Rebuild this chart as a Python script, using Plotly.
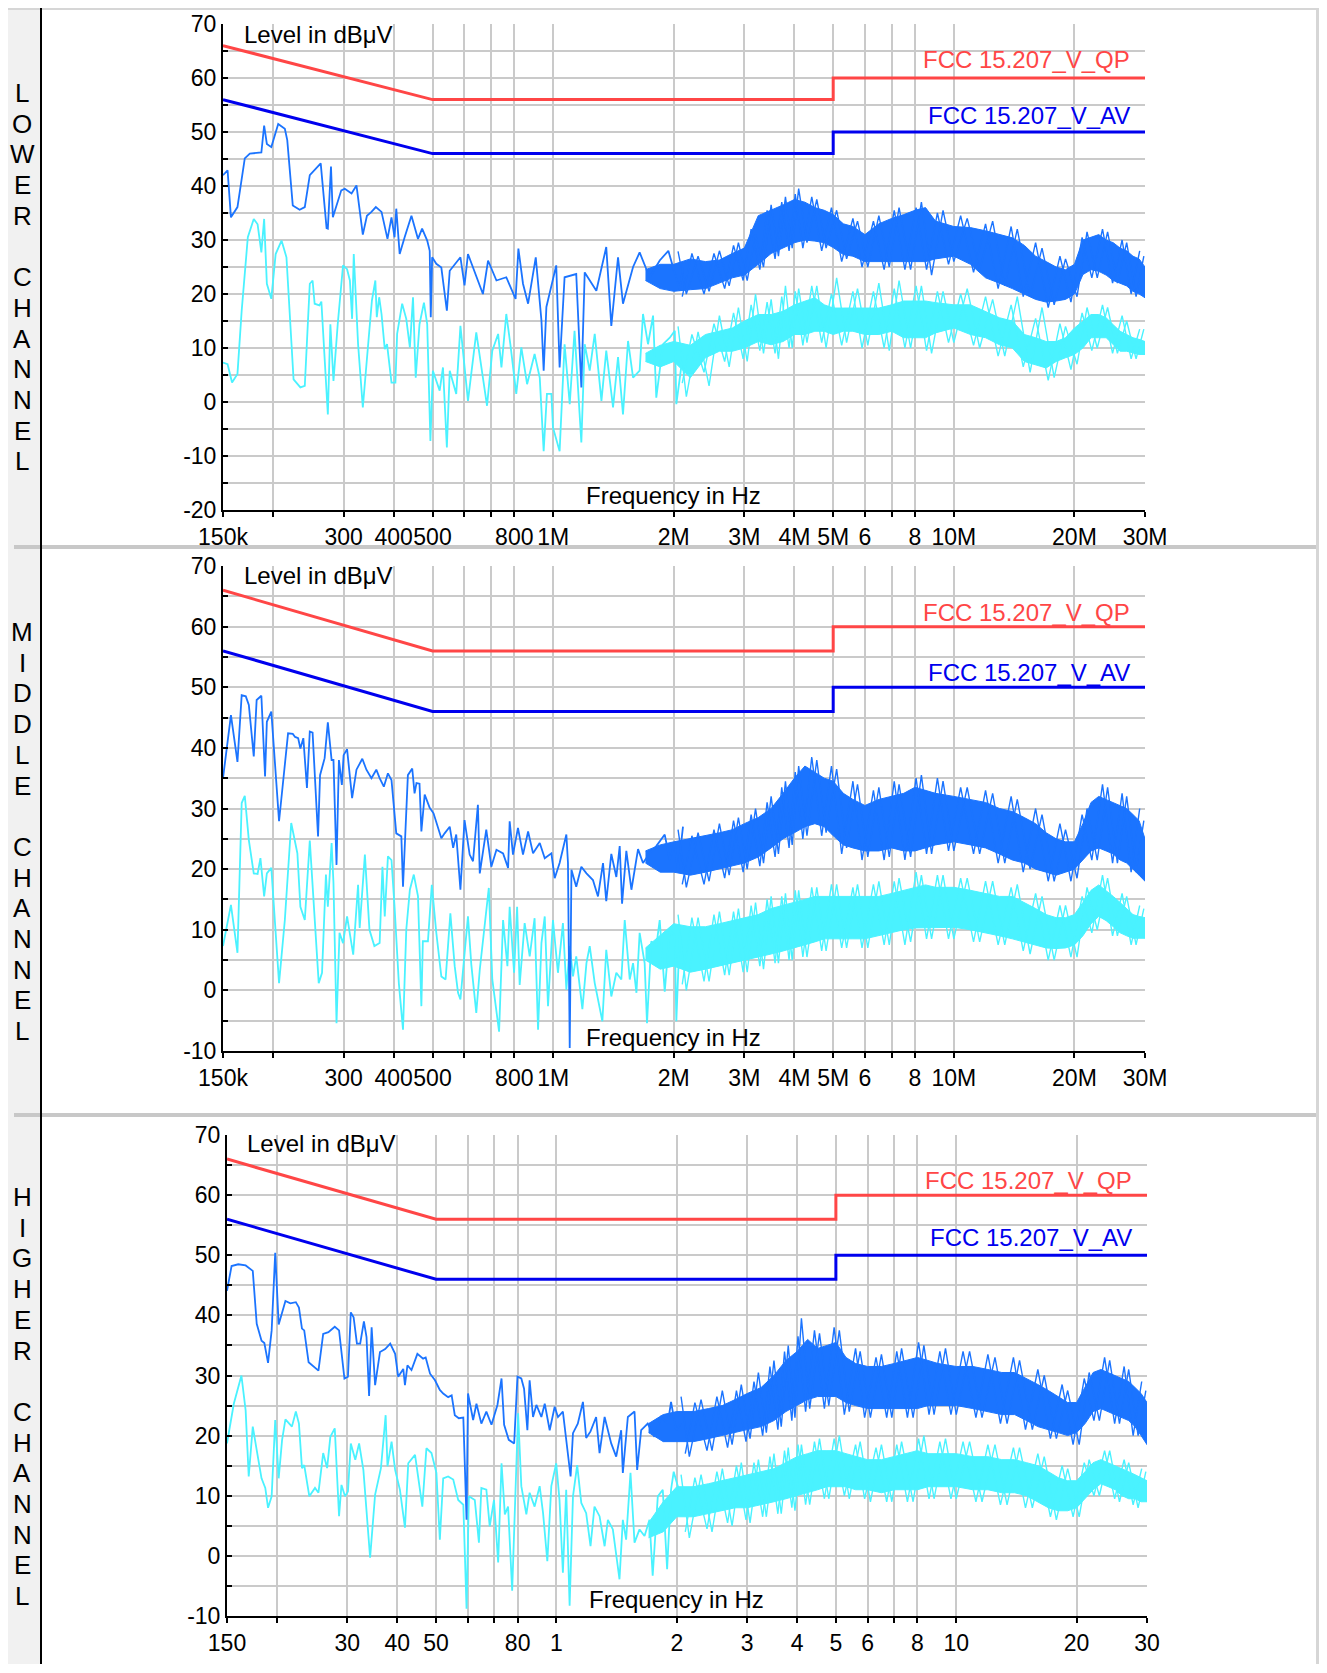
import math
import plotly.graph_objects as go

WIN_W, WIN_H = 1327, 1673
OFF = 8                      # page body margin of the html page
W, H = WIN_W - 2 * OFF, WIN_H - 2 * OFF - 1
FONT = "Liberation Sans, Arial, sans-serif"

# ---------------- data ----------------
limit_qp_f = [0.15, 0.5, 5.0, 5.0, 30.0]
limit_qp_v = [66, 56, 56, 60, 60]
limit_av_f = [0.15, 0.5, 5.0, 5.0, 30.0]
limit_av_v = [56, 46, 46, 50, 50]

x_tickvals = [0.15, 0.2, 0.3, 0.4, 0.5, 0.6, 0.7, 0.8, 1, 2, 3, 4, 5, 6, 7, 8, 10, 20, 30]
x_ticktext_a = ["150k", "", "300", "400", "500", "", "", "800", "1M", "2M", "3M", "4M", "5M", "6", "", "8", "10M", "20M", "30M"]
x_ticktext_b = ["150", "", "30", "40", "50", "", "", "80", "1", "2", "3", "4", "5", "6", "", "8", "10", "20", "30"]

panel_titles = ["LOWER CHANNEL", "MIDDLE CHANNEL", "HIGHER CHANNEL"]

# dense part (MHz): envelope grid of the noise bands
band_f = [1.7, 1.85, 2.0, 2.2, 2.4, 2.6, 2.8, 3.0, 3.25, 3.5, 3.75, 4.0, 4.25, 4.5, 4.75, 5.0, 5.3, 5.6, 6.0, 6.5, 7.0, 7.5,
          8.0, 8.5, 9.0, 10, 11, 12, 13, 14, 15, 16, 17, 18, 19, 20, 21, 22, 23, 24, 25, 26, 27, 28, 29, 30]
# dense part (MHz): spike tips, two interleaved sets (alternating up / down)
spike_f = [2.05, 2.15, 2.3, 2.45, 2.6, 2.75, 2.9, 3.05, 3.2, 3.35, 3.5, 3.65, 3.8, 3.95, 4.1, 4.3, 4.55, 4.8, 5.1, 5.4,
           5.75, 6.1, 6.5, 6.9, 7.3, 7.8, 8.3, 8.8, 9.4, 10.0, 10.8, 11.6, 12.5, 13.4, 14.4, 15.5, 16.6, 17.8, 19.0, 20.3,
           21.5, 22.8, 24.2, 25.6, 27.0, 28.5, 29.8]
spike_f2 = [2.1, 2.22, 2.38, 2.52, 2.68, 2.82, 2.98, 3.12, 3.28, 3.42, 3.58, 3.72, 3.88, 4.02, 4.2, 4.42, 4.68, 4.95, 5.25, 5.6,
            5.9, 6.3, 6.7, 7.1, 7.55, 8.05, 8.55, 9.1, 9.7, 10.4, 11.2, 12.0, 12.9, 13.9, 14.9, 16.0, 17.2, 18.4, 19.6, 20.9,
            22.1, 23.5, 24.9, 26.3, 27.7, 29.1]

# ---- panel 1 (lower channel) ----
p1_pk_khz = [150, 154, 157, 163, 170, 175, 187, 190, 193, 198, 206, 214, 217, 224, 233, 240, 247, 263, 272, 274,
             279, 282, 296, 302, 314, 323, 335, 343, 352, 361, 373, 386, 395, 402, 406, 414, 426, 443, 460, 471,
             485, 492, 495, 499, 511, 526, 543, 552, 587, 601, 613, 643, 668, 688, 722, 764, 806, 819, 841, 866,
             905, 935, 947, 962, 1018, 1038, 1068, 1142, 1176, 1199, 1282, 1357, 1397, 1452, 1494, 1583, 1644, 1741, 1845, 1939,
             2070, 2109]
p1_pk_v = [42.0, 42.9, 34.2, 36.1, 45.1, 46.0, 46.2, 51.2, 47.8, 47.2, 51.5, 50.6, 48.5, 36.4, 35.6, 36.1, 42.0, 44.2, 32.2, 32.1,
           43.6, 34.2, 39.2, 39.5, 38.6, 40.1, 31.0, 34.5, 35.2, 36.1, 35.2, 30.2, 34.2, 30.5, 35.8, 27.4, 30.5, 34.5, 30.2, 32.1,
           29.9, 28.0, 15.7, 26.8, 25.6, 24.9, 16.9, 24.3, 26.8, 21.6, 27.4, 23.1, 20.0, 26.2, 22.5, 23.1, 19.1, 28.4, 21.9, 18.2,
           26.8, 15.1, 5.8, 17.6, 25.3, 6.4, 23.1, 23.7, 2.7, 24.0, 20.6, 28.7, 14.1, 26.8, 18.2, 25.0, 27.7, 23.1, 26.2, 28.0,
           20.6, 25.0]
p1_av_khz = [150, 154, 158, 163, 167, 173, 179, 183, 187, 190, 193, 198, 203, 210, 216, 225, 234, 240, 247, 251,
             254, 261, 264, 274, 278, 283, 290, 299, 306, 311, 315, 318, 326, 335, 346, 353, 360, 363, 368, 373,
             380, 385, 395, 404, 408, 420, 430, 439, 447, 454, 464, 476, 485, 494, 501, 521, 531, 543, 552, 573,
             587, 601, 613, 643, 662, 684, 705, 729, 743, 764, 782, 809, 833, 861, 899, 926, 947, 965, 990, 999,
             1038, 1068, 1100, 1131, 1176, 1199, 1234, 1270, 1320, 1357, 1411, 1452, 1494, 1538, 1583, 1644, 1676, 1725, 1776, 1809,
             1881, 1955, 2012, 2030, 2109]
p1_av_v = [7.3, 7.0, 3.6, 5.2, 16.9, 30.5, 33.9, 32.9, 27.7, 33.9, 21.9, 19.1, 27.4, 29.9, 26.8, 4.2, 2.7, 3.0, 21.9, 22.5,
           18.2, 17.9, 18.6, -2.3, 14.4, 3.9, 14.4, 25.3, 24.6, 22.5, 15.4, 27.4, 10.7, -1.0, 11.3, 18.8, 22.5, 15.7, 19.4, 16.3,
           9.8, 10.7, 3.6, 3.6, 12.6, 18.2, 15.4, 10.1, 19.4, 4.5, 14.4, 18.4, 14.4, -7.2, 5.8, 2.1, 6.4, -8.4, 5.8, 1.5,
           14.1, 7.0, 0.2, 12.9, 6.4, -0.7, 9.5, 12.6, 6.4, 16.3, 10.7, 1.5, 10.1, 3.3, 8.9, 4.5, -9.1, 1.5, 1.5, -4.7,
           -9.1, 10.7, -0.4, 13.2, -7.5, 10.7, 5.8, 12.6, 0.2, 9.5, -1.0, 8.3, -2.3, 11.3, 4.5, 5.8, 16.3, 10.7, 16.0, 0.8,
           10.7, 11.9, 13.2, -0.4, 8.9]
p1_pk_hi = [24.5, 25.5, 25.5, 26.5, 26.0, 26.3, 27.5, 28.5, 34.5, 35.5, 36.5, 37.5, 37.0, 36.0, 35.5, 34.7, 33.0, 32.5, 31.0, 33.0,
            34.0, 34.7, 35.5, 36.0, 33.5, 32.5, 32.3, 31.7, 31.0, 30.4, 29.0, 27.0, 26.0, 25.0, 24.5, 25.5, 30.0, 30.5, 31.0, 30.0,
            29.5, 28.5, 28.0, 27.0, 26.5, 25.0]
p1_pk_lo = [22.5, 21.0, 20.5, 20.8, 21.0, 22.0, 23.0, 23.5, 25.5, 27.5, 28.5, 29.5, 30.0, 29.8, 29.5, 28.6, 27.3, 27.0, 26.0, 26.0,
            26.0, 26.0, 26.0, 26.0, 26.5, 27.0, 25.5, 23.0, 22.0, 21.0, 20.0, 19.0, 18.5, 18.7, 19.0, 20.0, 23.6, 24.5, 24.2, 23.5,
            22.5, 22.0, 21.5, 20.5, 20.0, 19.3]
p1_av_hi = [9.0, 10.5, 11.2, 10.5, 12.5, 13.1, 13.7, 15.0, 16.2, 16.2, 16.8, 18.0, 18.7, 19.3, 18.0, 17.4, 17.4, 17.4, 17.4, 17.4,
            18.0, 18.7, 18.7, 18.7, 18.4, 18.0, 18.0, 16.8, 15.6, 15.0, 12.5, 11.9, 11.2, 11.2, 11.9, 13.7, 15.0, 16.2, 16.2, 15.6,
            14.3, 13.1, 12.5, 11.9, 11.6, 11.2]
p1_av_lo = [7.5, 6.5, 7.5, 4.5, 8.2, 9.4, 9.4, 10.0, 11.2, 10.6, 11.2, 12.5, 12.5, 13.1, 13.1, 12.5, 13.1, 13.1, 12.5, 12.5,
            13.1, 11.9, 11.9, 11.9, 12.8, 13.7, 12.5, 11.9, 10.6, 10.0, 7.5, 6.9, 6.3, 7.5, 8.2, 8.8, 10.0, 11.9, 11.9, 11.9,
            10.6, 9.4, 9.4, 9.1, 8.8, 8.8]
p1_pk_spk = [27.9, 20.0, 27.0, 20.5, 28.0, 21.5, 29.5, 22.5, 31.0, 25.0, 36.5, 27.0, 38.0, 28.5, 39.5, 29.5, 37.5, 28.5, 35.5, 26.5,
             33.5, 25.0, 34.5, 25.0, 36.0, 24.5, 37.0, 23.5, 35.5, 26.0, 34.0, 24.5, 33.5, 21.5, 32.0, 19.5, 28.5, 18.0, 26.5, 19.5,
             31.5, 23.0, 31.5, 22.0, 29.5, 19.5, 27.0]
p1_av_spk = [14.0, 1.0, 13.0, 3.0, 16.0, 6.5, 17.5, 7.5, 20.0, 9.0, 19.0, 8.0, 21.5, 10.0, 21.0, 11.0, 21.5, 10.0, 23.0, 11.0,
             21.0, 10.5, 22.0, 9.5, 22.5, 10.0, 21.5, 9.0, 20.5, 11.0, 21.0, 10.0, 19.0, 8.5, 19.5, 5.5, 17.5, 4.5, 14.0, 7.0,
             17.5, 10.0, 17.5, 9.0, 15.0, 8.0, 13.5]
p1_pk_spk2 = [19.5, 27.5, 20.0, 27.5, 21.0, 29.0, 22.5, 32.0, 24.5, 35.5, 26.5, 37.0, 28.0, 38.5, 28.5, 38.0, 28.0, 36.0, 26.0, 34.0,
              25.0, 33.5, 24.5, 35.5, 24.5, 36.0, 24.5, 35.0, 25.5, 34.5, 24.0, 33.0, 21.0, 32.5, 19.5, 29.5, 17.5, 27.0, 18.5, 30.5,
              23.0, 32.0, 22.0, 30.0, 20.0, 28.0]
p1_av_spk2 = [3.5, 12.5, 5.5, 14.5, 7.5, 16.5, 8.0, 18.0, 9.5, 18.5, 9.0, 19.5, 10.0, 20.5, 10.5, 21.5, 11.0, 20.0, 10.5, 20.5,
              10.0, 20.5, 10.0, 21.0, 10.0, 21.5, 9.5, 20.5, 11.0, 20.0, 10.5, 19.5, 8.5, 18.0, 6.5, 15.5, 4.0, 14.5, 6.0, 16.5,
              9.5, 18.0, 9.0, 16.0, 8.0, 13.5]

# ---- panel 2 (middle channel) ----
p2_pk_khz = [150, 157, 163, 167, 171, 174, 179, 182, 187, 191, 193, 198, 207, 212, 218, 224, 227, 231, 234, 238,
             243, 247, 251, 259, 262, 269, 274, 280, 283, 288, 292, 297, 300, 306, 315, 323, 334, 342, 352, 362,
             369, 378, 387, 395, 406, 418, 422, 434, 445, 451, 456, 464, 469, 478, 492, 503, 516, 526, 536, 552,
             563, 573, 587, 601, 619, 631, 649, 656, 681, 701, 722, 750, 772, 779, 794, 817, 841, 866, 891, 926,
             953, 990, 1009, 1038, 1079, 1089, 1100, 1111, 1142, 1176, 1211, 1257, 1294, 1332, 1357, 1397, 1438, 1466, 1486, 1523,
             1568, 1629, 1676, 1741, 1809, 1899, 1955, 2012, 2049, 2109]
p2_pk_v = [35.0, 45.4, 37.7, 48.7, 48.5, 47.1, 38.6, 47.9, 48.6, 35.3, 44.3, 46.0, 27.9, 34.7, 42.4, 42.3, 41.8, 41.6, 39.9, 41.6,
           33.4, 42.7, 42.5, 25.4, 35.5, 38.3, 44.2, 38.0, 38.0, 20.7, 38.0, 33.9, 38.8, 39.8, 31.7, 36.4, 38.2, 36.4, 35.0, 36.4,
           35.0, 33.6, 35.8, 34.7, 25.9, 25.4, 17.1, 35.5, 36.6, 32.5, 34.2, 34.1, 26.2, 32.3, 30.1, 29.2, 27.0, 25.1, 25.9, 27.0,
           23.5, 25.7, 16.6, 28.1, 22.4, 21.3, 30.6, 19.3, 26.5, 20.4, 23.2, 22.6, 20.2, 27.9, 22.4, 26.8, 22.4, 26.2, 22.6, 24.3,
           21.8, 22.6, 18.5, 21.0, 25.7, 21.0, -9.5, 19.9, 17.1, 20.4, 19.3, 18.2, 15.5, 21.0, 14.7, 22.5, 18.7, 23.8, 14.3, 23.0,
           16.6, 23.3, 21.0, 22.6, 23.8, 25.7, 21.5, 24.3, 19.6, 27.0]
p2_av_khz = [150, 157, 163, 167, 170, 174, 179, 183, 186, 190, 193, 198, 207, 214, 222, 230, 234, 240, 247, 253,
             260, 265, 271, 274, 280, 283, 288, 293, 299, 306, 317, 326, 329, 339, 348, 358, 369, 375, 380, 387,
             395, 402, 412, 422, 430, 439, 449, 460, 469, 473, 487, 498, 511, 526, 539, 554, 568, 579, 587, 596,
             613, 625, 643, 656, 675, 691, 705, 733, 750, 769, 779, 799, 813, 825, 849, 874, 899, 917, 935, 953,
             971, 999, 1028, 1058, 1079, 1100, 1121, 1142, 1183, 1211, 1234, 1270, 1327, 1357, 1397, 1438, 1480, 1509, 1553, 1583,
             1614, 1644, 1692, 1715, 1758, 1809, 1845, 1899, 1955, 2012, 2030, 2070, 2109]
p2_av_v = [7.3, 14.1, 6.2, 30.9, 32.1, 24.8, 19.3, 19.2, 21.8, 15.5, 19.3, 20.2, 1.2, 11.6, 27.6, 22.6, 13.8, 11.6, 24.7, 13.8,
           1.2, 2.9, 19.1, 13.8, 24.3, 17.7, -5.4, 9.5, 7.8, 12.2, 5.9, 17.4, 10.3, 22.4, 10.0, 7.3, 7.8, 20.4, 12.2, 22.1,
           21.5, 13.8, 1.2, -6.5, 10.0, 16.6, 19.1, 15.5, -2.6, 8.1, 8.1, 17.4, 9.5, 2.3, 1.8, 12.7, 4.0, -0.4, -1.5, 3.4,
           12.2, 4.2, -3.7, 3.4, 10.5, 16.9, 1.8, -6.8, 11.6, 4.0, 13.8, 2.9, 13.8, 0.9, 11.1, 5.6, 11.9, -6.5, 7.8, 12.2,
           -2.6, 11.6, 2.9, 11.1, 0.1, 7.3, 2.3, 5.6, -3.1, 4.5, 7.3, 1.2, -5.1, 6.7, -1.0, 2.9, 1.8, 11.6, 1.8, 4.5,
           -0.4, 9.5, 4.5, -5.4, 8.1, 7.3, 11.6, -0.2, 10.0, 8.9, -5.1, 9.5, 4.5]
p2_pk_hi = [23.0, 24.0, 24.5, 25.0, 25.5, 26.0, 26.5, 27.5, 28.5, 30.0, 32.5, 35.0, 37.0, 36.0, 35.0, 34.5, 32.5, 31.5, 30.5, 31.5,
            32.0, 32.5, 33.5, 33.0, 32.5, 32.0, 31.5, 31.0, 30.0, 29.5, 28.5, 27.5, 26.0, 25.0, 24.5, 24.5, 27.5, 31.0, 32.0, 31.5,
            31.0, 30.5, 30.0, 29.0, 28.0, 25.0]
p2_pk_lo = [21.0, 19.5, 19.5, 19.0, 19.5, 20.0, 20.5, 21.0, 22.0, 23.5, 25.0, 26.0, 27.0, 27.5, 27.0, 25.5, 24.0, 23.5, 23.0, 23.0,
            23.5, 23.0, 23.0, 23.5, 24.0, 24.5, 24.0, 23.5, 22.5, 21.5, 21.0, 20.0, 19.5, 19.0, 19.5, 20.0, 21.5, 23.0, 23.5, 23.0,
            22.5, 21.5, 21.0, 20.0, 19.0, 18.0]
p2_av_hi = [7.0, 9.0, 11.0, 10.5, 10.5, 11.0, 11.5, 12.0, 12.5, 13.5, 14.0, 14.5, 15.0, 15.5, 15.5, 15.6, 15.5, 15.5, 15.5, 15.5,
            16.0, 16.5, 17.0, 17.4, 17.0, 17.0, 16.5, 16.0, 15.5, 15.5, 14.5, 13.5, 12.5, 12.0, 12.0, 12.5, 14.5, 16.5, 17.4, 16.5,
            15.5, 14.5, 13.5, 12.5, 12.2, 12.0]
p2_av_lo = [5.0, 3.5, 4.0, 3.0, 3.5, 4.0, 4.5, 5.0, 5.5, 6.0, 6.5, 7.0, 7.5, 8.0, 8.5, 8.6, 8.5, 8.5, 8.5, 9.0,
            9.5, 10.0, 10.3, 10.4, 10.4, 10.4, 10.0, 9.5, 9.0, 8.5, 8.0, 7.5, 7.0, 6.9, 7.0, 7.5, 9.0, 11.0, 12.2, 11.5,
            10.5, 9.5, 9.0, 8.6, 8.6, 8.6]
p2_pk_spk = [26.5, 17.0, 26.0, 18.0, 27.5, 19.0, 28.5, 20.0, 30.0, 21.0, 32.0, 22.5, 34.5, 24.0, 37.0, 25.5, 38.0, 26.0, 36.5, 23.5,
             34.0, 22.0, 33.5, 22.0, 34.0, 22.0, 35.5, 22.5, 34.5, 23.0, 33.5, 22.5, 32.5, 21.0, 31.5, 20.0, 29.0, 18.0, 26.5, 18.5,
             30.0, 21.5, 33.5, 21.0, 32.0, 19.5, 28.0]
p2_av_spk = [12.5, 0.0, 12.0, 1.5, 13.0, 2.5, 13.5, 3.0, 14.5, 3.5, 15.5, 4.5, 16.0, 5.0, 16.5, 5.5, 17.0, 6.5, 17.5, 7.0,
             17.5, 7.0, 18.0, 7.5, 18.5, 8.0, 19.0, 8.5, 19.0, 8.5, 18.5, 8.0, 18.0, 7.5, 17.5, 6.0, 15.5, 5.0, 14.0, 5.5,
             17.0, 10.0, 18.5, 9.0, 15.5, 7.5, 13.5]
p2_pk_spk2 = [17.5, 25.5, 17.5, 26.5, 18.5, 28.0, 19.5, 29.0, 20.5, 31.0, 22.0, 33.5, 23.5, 36.0, 25.0, 38.5, 25.5, 37.0, 22.5, 34.5,
              21.5, 33.0, 21.5, 34.5, 21.5, 35.0, 22.5, 35.0, 23.0, 33.5, 22.5, 33.0, 21.0, 32.0, 19.5, 30.0, 18.0, 27.5, 18.0, 29.0,
              21.5, 34.0, 21.0, 32.5, 19.5, 30.0]
p2_av_spk2 = [1.0, 12.0, 1.5, 12.5, 2.5, 13.0, 3.0, 14.0, 4.0, 15.0, 4.5, 15.5, 5.0, 16.5, 5.5, 17.0, 6.5, 17.5, 7.0, 17.0,
              7.0, 17.5, 7.5, 18.0, 7.5, 19.5, 8.5, 19.0, 8.5, 18.5, 8.0, 18.0, 7.5, 17.0, 6.5, 16.0, 5.0, 14.0, 5.5, 15.5,
              9.5, 19.0, 9.0, 16.0, 7.5, 14.0]

# ---- panel 3 (higher channel) ----
p3_pk_khz = [150, 154, 160, 167, 174, 178, 183, 186, 190, 194, 198, 202, 210, 216, 223, 227, 231, 234, 240, 254,
             261, 269, 279, 286, 295, 301, 306, 311, 317, 323, 330, 335, 340, 345, 352, 362, 373, 384, 395, 402,
             414, 418, 424, 434, 449, 464, 471, 483, 497, 511, 521, 536, 547, 557, 570, 585, 596, 601, 619, 631,
             649, 668, 688, 712, 729, 740, 760, 784, 799, 817, 830, 846, 857, 874, 891, 917, 935, 962, 990, 1009,
             1038, 1058, 1085, 1100, 1131, 1165, 1187, 1217, 1257, 1282, 1320, 1371, 1411, 1452, 1466, 1509, 1568, 1592, 1629, 1692,
             1758, 1827, 1899, 1935, 1992, 2049]
p3_pk_v = [44.1, 48.2, 48.5, 48.3, 47.4, 38.6, 35.8, 35.4, 32.1, 37.5, 50.4, 38.5, 42.4, 42.0, 42.2, 41.3, 37.8, 37.5, 32.2, 30.8,
           36.9, 37.2, 38.1, 37.5, 29.5, 29.8, 40.5, 39.7, 35.3, 35.3, 39.0, 36.4, 26.6, 38.0, 28.4, 33.9, 34.4, 35.3, 33.6, 29.8,
           31.1, 28.4, 31.7, 30.9, 33.6, 32.8, 33.0, 30.3, 29.2, 27.6, 27.0, 26.4, 26.7, 23.4, 22.9, 23.0, 6.0, 27.0, 22.6, 25.3,
           22.0, 24.0, 21.8, 25.1, 29.5, 21.8, 19.3, 18.7, 29.8, 29.5, 27.8, 20.9, 29.2, 23.1, 25.1, 23.1, 25.3, 20.9, 24.8, 23.1,
           24.0, 19.6, 13.2, 20.4, 22.0, 25.6, 19.6, 20.7, 23.1, 17.1, 23.1, 18.7, 16.5, 20.9, 13.8, 23.1, 24.0, 14.3, 20.9, 22.0,
           19.8, 23.1, 22.0, 25.6, 20.9, 22.0]
p3_av_khz = [150, 156, 163, 167, 170, 174, 178, 183, 187, 190, 194, 198, 202, 206, 210, 218, 223, 227, 231, 234,
             241, 249, 254, 261, 267, 272, 279, 286, 290, 296, 301, 306, 314, 321, 329, 342, 352, 364, 374, 378,
             387, 395, 406, 418, 426, 443, 462, 473, 487, 501, 511, 521, 536, 552, 568, 585, 596, 604, 625, 640,
             649, 668, 681, 698, 715, 729, 743, 757, 775, 787, 802, 817, 841, 857, 882, 908, 926, 949, 971, 999,
             1018, 1038, 1058, 1079, 1100, 1127, 1154, 1187, 1217, 1245, 1282, 1320, 1345, 1384, 1438, 1466, 1494, 1532, 1568, 1614,
             1661, 1709, 1741, 1793, 1845, 1892, 1935, 1965, 2012, 2049]
p3_av_v = [18.7, 25.3, 30.0, 24.2, 13.2, 21.5, 17.6, 12.9, 11.3, 8.0, 9.9, 22.6, 12.9, 19.3, 22.7, 21.5, 24.0, 22.0, 14.6, 15.1,
           9.9, 11.3, 10.5, 17.1, 14.6, 19.8, 21.2, 6.6, 11.8, 9.9, 10.7, 18.7, 16.0, 18.7, 14.3, -0.3, 10.2, 14.6, 23.4, 14.9,
           19.0, 14.3, 11.0, 4.7, 15.4, 16.8, 8.2, 17.9, 17.1, 13.8, 2.7, 12.9, 13.2, 12.7, 9.3, 8.5, -8.8, 9.9, 9.3, 2.2,
           11.3, 11.0, 4.9, 9.3, -1.1, 15.4, 6.9, 8.2, -5.8, 8.2, 23.7, 11.6, 6.9, 10.5, 8.2, 11.6, 7.1, -0.9, 11.6, 15.4,
           9.3, -2.8, 11.0, -8.3, 9.9, 15.1, 8.8, 7.1, 1.6, 8.2, 6.6, 1.6, 6.0, 4.4, -3.9, 6.0, 2.7, 13.8, 2.2, 4.4,
           3.3, 6.0, -3.3, 9.9, 11.0, -2.2, 11.0, 14.0, 11.6, 10.5]
p3_pk_hi = [22.0, 23.5, 24.0, 24.0, 24.5, 25.0, 26.0, 27.0, 28.0, 30.0, 32.5, 34.0, 36.0, 34.5, 35.0, 35.5, 33.0, 32.0, 31.5, 31.5,
            32.0, 32.5, 33.0, 32.5, 32.0, 31.5, 31.5, 31.0, 30.5, 30.5, 29.5, 28.5, 27.5, 26.5, 25.5, 25.5, 28.0, 30.5, 31.0, 30.5,
            30.0, 29.5, 29.0, 28.0, 27.0, 25.5]
p3_pk_lo = [20.5, 19.0, 19.0, 19.0, 19.5, 20.0, 20.5, 21.0, 21.5, 22.5, 24.0, 25.0, 26.0, 26.5, 26.5, 26.5, 25.5, 25.0, 24.5, 24.5,
            24.5, 24.5, 24.5, 25.0, 25.0, 25.0, 24.5, 24.0, 23.5, 23.5, 22.5, 21.5, 21.0, 20.5, 20.0, 20.5, 22.0, 24.0, 24.5, 24.0,
            23.5, 23.0, 22.5, 21.5, 20.0, 18.5]
p3_av_hi = [5.5, 9.0, 11.5, 11.5, 12.0, 12.5, 13.0, 13.5, 14.0, 14.5, 15.5, 16.5, 17.0, 17.5, 17.5, 17.5, 17.0, 16.5, 16.0, 16.0,
            16.5, 17.0, 17.5, 17.0, 17.0, 17.0, 16.5, 16.5, 16.0, 16.0, 15.5, 15.0, 14.0, 13.0, 12.5, 12.5, 14.0, 15.5, 16.0, 15.5,
            15.0, 14.5, 14.0, 13.5, 13.0, 12.5]
p3_av_lo = [3.0, 4.0, 6.5, 6.5, 7.0, 7.5, 8.0, 8.0, 8.5, 9.0, 9.5, 10.0, 10.5, 11.0, 11.5, 11.5, 11.5, 11.0, 11.0, 10.5,
            11.0, 11.0, 11.0, 11.5, 11.5, 11.5, 11.0, 11.0, 10.5, 10.5, 10.0, 9.0, 8.0, 7.5, 7.5, 8.0, 9.5, 11.0, 12.0, 11.5,
            11.0, 10.0, 9.5, 9.5, 9.0, 9.0]
p3_pk_spk = [26.5, 16.5, 26.0, 17.5, 27.5, 18.5, 28.5, 19.5, 30.5, 20.5, 32.5, 21.5, 35.0, 23.0, 39.5, 24.5, 37.0, 25.0, 37.5, 24.0,
             34.0, 23.0, 33.5, 23.0, 34.5, 23.0, 35.0, 23.5, 34.5, 23.5, 34.0, 23.0, 33.0, 22.0, 32.5, 21.0, 30.0, 19.5, 27.5, 18.5,
             30.5, 22.5, 32.5, 22.0, 31.0, 20.0, 27.5]
p3_av_spk = [13.5, 3.0, 13.5, 4.0, 14.5, 5.0, 15.5, 5.5, 16.0, 6.5, 17.0, 7.0, 18.0, 7.5, 18.5, 8.5, 19.5, 9.5, 20.0, 9.5,
             19.0, 9.0, 18.5, 9.0, 19.0, 9.0, 20.0, 9.5, 19.5, 9.5, 19.0, 9.0, 18.5, 8.5, 18.0, 8.0, 16.5, 6.0, 14.5, 6.5,
             16.0, 10.0, 17.5, 9.0, 15.5, 8.0, 14.0]
p3_pk_spk2 = [17.0, 25.5, 17.5, 26.5, 18.0, 27.5, 19.0, 29.0, 20.0, 31.5, 21.0, 34.0, 22.5, 36.5, 24.0, 37.5, 24.5, 38.0, 23.5, 34.5,
              23.0, 33.0, 23.0, 34.0, 23.0, 35.5, 23.5, 34.0, 23.5, 34.0, 23.0, 33.5, 22.0, 33.0, 21.0, 31.0, 19.5, 28.5, 18.5, 29.5,
              22.5, 33.0, 22.0, 31.5, 20.0, 29.0]
p3_av_spk2 = [4.0, 13.0, 4.5, 14.0, 5.5, 15.0, 6.0, 15.5, 6.5, 16.5, 7.0, 17.5, 8.0, 18.5, 8.5, 19.0, 9.5, 19.5, 10.0, 18.5,
              9.5, 18.0, 9.0, 18.5, 9.0, 19.5, 9.5, 19.0, 9.5, 19.0, 9.0, 18.5, 8.5, 18.0, 8.0, 17.0, 6.5, 15.0, 6.5, 15.5,
              10.0, 17.5, 9.5, 16.0, 8.5, 14.5]

panels_data = [
    dict(pk_khz=p1_pk_khz, pk_v=p1_pk_v, av_khz=p1_av_khz, av_v=p1_av_v, pk_hi=p1_pk_hi, pk_lo=p1_pk_lo,
         av_hi=p1_av_hi, av_lo=p1_av_lo, pk_spk=p1_pk_spk, av_spk=p1_av_spk, pk_spk2=p1_pk_spk2, av_spk2=p1_av_spk2),
    dict(pk_khz=p2_pk_khz, pk_v=p2_pk_v, av_khz=p2_av_khz, av_v=p2_av_v, pk_hi=p2_pk_hi, pk_lo=p2_pk_lo,
         av_hi=p2_av_hi, av_lo=p2_av_lo, pk_spk=p2_pk_spk, av_spk=p2_av_spk, pk_spk2=p2_pk_spk2, av_spk2=p2_av_spk2),
    dict(pk_khz=p3_pk_khz, pk_v=p3_pk_v, av_khz=p3_av_khz, av_v=p3_av_v, pk_hi=p3_pk_hi, pk_lo=p3_pk_lo,
         av_hi=p3_av_hi, av_lo=p3_av_lo, pk_spk=p3_pk_spk, av_spk=p3_av_spk, pk_spk2=p3_pk_spk2, av_spk2=p3_av_spk2),
]

# ---------------- layout geometry (window pixels) ----------------
geom = [
    dict(x0=223, x1=1145, y0=24, y1=510, ymin=-20, ticktext=x_ticktext_a,
         lvl_y=68.1, qp_y=63.5, av_y=53.1, fq_y=-17.3, lvl_x=0.167, letters_top=93),
    dict(x0=223, x1=1145, y0=566, y1=1051, ymin=-10, ticktext=x_ticktext_a,
         lvl_y=68.4, qp_y=62.3, av_y=52.5, fq_y=-7.8, lvl_x=0.167, letters_top=632),
    dict(x0=227, x1=1147, y0=1135, y1=1616, ymin=-10, ticktext=x_ticktext_b,
         lvl_y=68.6, qp_y=62.5, av_y=52.9, fq_y=-7.3, lvl_x=0.166, letters_top=1197),
]

C_PK = "#1b74ff"
C_AV = "#4af2ff"
C_QP = "#ff4646"
C_AVL = "#0000ee"
GRID = "#cacaca"


def px_x(p):
    return (p - OFF) / W


def px_y(p):
    return 1 - (p - OFF) / H


fig = go.Figure()
annotations = []
shapes = []
layout_axes = {}

for i, (d, g) in enumerate(zip(panels_data, geom)):
    n = "" if i == 0 else str(i + 1)
    xa, ya = "x" + n, "y" + n

    pk_f = [k / 1000.0 for k in d["pk_khz"]]
    av_f = [k / 1000.0 for k in d["av_khz"]]

    def add_line(x, y, color, width):
        fig.add_trace(go.Scatter(x=x, y=y, mode="lines", line=dict(color=color, width=width),
                                 xaxis=xa, yaxis=ya, showlegend=False, hoverinfo="skip"))

    def add_band(hi, lo, color):
        fig.add_trace(go.Scatter(x=band_f + band_f[::-1], y=hi + lo[::-1], fill="toself",
                                 fillcolor=color, mode="lines", line=dict(color=color, width=1),
                                 xaxis=xa, yaxis=ya, hoverinfo="skip", showlegend=False))

    # average detector trace
    add_band(d["av_hi"], d["av_lo"], C_AV)
    add_line(spike_f, d["av_spk"], C_AV, 1.4)
    add_line(spike_f2, d["av_spk2"], C_AV, 1.4)
    add_line(av_f, d["av_v"], C_AV, 1.8)
    # peak detector trace
    add_band(d["pk_hi"], d["pk_lo"], C_PK)
    add_line(spike_f, d["pk_spk"], C_PK, 1.4)
    add_line(spike_f2, d["pk_spk2"], C_PK, 1.4)
    add_line(pk_f, d["pk_v"], C_PK, 1.8)
    # limits
    add_line(limit_av_f, limit_av_v, C_AVL, 3)
    add_line(limit_qp_f, limit_qp_v, C_QP, 3)

    yt = list(range(70, g["ymin"] - 1, -5))
    ytt = [str(v) if v % 10 == 0 else "" for v in yt]

    layout_axes["xaxis" + n] = dict(
        type="log", range=[math.log10(0.15), math.log10(30)],
        domain=[px_x(g["x0"]), px_x(g["x1"])], anchor=ya,
        tickmode="array", tickvals=x_tickvals, ticktext=g["ticktext"], tickangle=0,
        ticks="outside", ticklen=5, tickwidth=2, tickcolor="black",
        showline=True, linecolor="black", linewidth=2, automargin=False,
        showgrid=True, gridcolor=GRID, gridwidth=2, zeroline=False,
        tickfont=dict(family=FONT, size=23, color="black"), fixedrange=True)
    layout_axes["yaxis" + n] = dict(
        range=[g["ymin"], 70], domain=[px_y(g["y1"]), px_y(g["y0"])], anchor=xa,
        tickmode="array", tickvals=yt, ticktext=ytt,
        ticks="inside", ticklen=5, tickwidth=2, tickcolor="black",
        showline=True, linecolor="black", linewidth=2, automargin=False,
        showgrid=True, gridcolor=GRID, gridwidth=2, zeroline=False,
        tickfont=dict(family=FONT, size=23, color="black"), fixedrange=True)

    annotations.append(dict(text="Level in dBμV", x=math.log10(g["lvl_x"]), y=g["lvl_y"],
                            xref=xa, yref=ya, xanchor="left", yanchor="middle", showarrow=False,
                            font=dict(family=FONT, size=24, color="black")))
    annotations.append(dict(text="FCC 15.207_V_QP", x=math.log10(27.8), y=g["qp_y"],
                            xref=xa, yref=ya, xanchor="right", yanchor="middle", showarrow=False,
                            font=dict(family=FONT, size=24, color=C_QP)))
    annotations.append(dict(text="FCC 15.207_V_AV", x=math.log10(27.8), y=g["av_y"],
                            xref=xa, yref=ya, xanchor="right", yanchor="middle", showarrow=False,
                            font=dict(family=FONT, size=24, color=C_AVL)))
    annotations.append(dict(text="Frequency in Hz", x=math.log10(2.0), y=g["fq_y"],
                            xref=xa, yref=ya, xanchor="center", yanchor="middle", showarrow=False,
                            font=dict(family=FONT, size=24, color="black")))

    for k, ch in enumerate(panel_titles[i]):
        if ch == " ":
            continue
        annotations.append(dict(text=ch, x=px_x(22), y=px_y(g["letters_top"] + k * 30.7),
                                xref="paper", yref="paper", xanchor="center", yanchor="middle",
                                showarrow=False, font=dict(family=FONT, size=26, color="black")))


def rect(x0, y0, x1, y1, color):
    shapes.append(dict(type="rect", xref="paper", yref="paper",
                       x0=px_x(x0), x1=px_x(x1), y0=px_y(y1), y1=px_y(y0),
                       fillcolor=color, line=dict(width=0), layer="below"))


rect(OFF, OFF, 40, WIN_H, "#f1f1f1")          # left label column
rect(OFF, OFF, WIN_W - OFF, 10, "#d6d6d6")    # top border
rect(6 + OFF, 545, WIN_W - OFF, 549, "#c8c8c8")   # separators
rect(6 + OFF, 1113, WIN_W - OFF, 1117, "#c8c8c8")
rect(WIN_W - OFF - 3, OFF, WIN_W - OFF, WIN_H, "#d6d6d6")  # right border
rect(40, OFF, 42, WIN_H, "#000000")           # black divider

fig.update_layout(
    width=W, height=H, autosize=False,
    margin=dict(l=0, r=0, t=0, b=0, pad=0, autoexpand=False),
    paper_bgcolor="white", plot_bgcolor="white",
    showlegend=False,
    annotations=annotations, shapes=shapes,
    font=dict(family=FONT, color="black"),
    **layout_axes,
)

fig.write_html("out.html")
